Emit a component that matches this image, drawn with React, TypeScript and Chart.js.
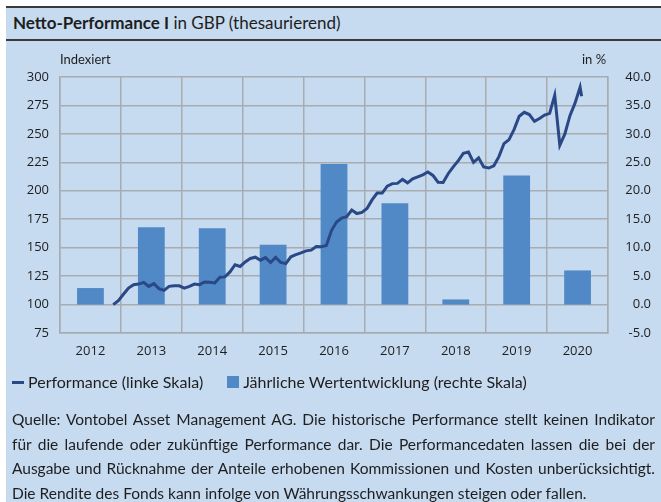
import React, { useEffect, useRef } from 'react';
import { Chart, registerables } from 'chart.js';

Chart.register(...registerables);

// ---- data ----
const years = ['2012', '2013', '2014', '2015', '2016', '2017', '2018', '2019', '2020'];
const annualReturns = [2.9, 13.6, 13.4, 10.5, 24.7, 17.8, 0.9, 22.7, 6.0];
const leftMin = 75;
const leftMax = 300;
const leftStep = 25;
const rightMin = -5;
const rightMax = 40;
const rightStep = 5;
// monthly performance, first value = month index 10 after Jan 2012 (Nov 2012)
const perfStartMonth = 10;
const performance = [
  100, 103.5, 109, 114.5, 117.5, 118, 119.5, 116, 118.4, 114,
  112.5, 116, 116.5, 116.5, 114.5, 116, 118, 117.5, 119.8, 119.5,
  119, 124, 124.3, 128.7, 135, 133.5, 137.5, 140.5, 141.6, 139,
  141.3, 137, 141.5, 137, 136, 142, 143.8, 145.5, 147.2, 147.8,
  151, 150.8, 152, 165, 172.5, 176, 177.2, 183, 180, 181,
  184.5, 192, 198, 198, 204, 206.3, 206.5, 210, 207, 210.5,
  212.3, 214, 216.5, 213.5, 207.5, 207.3, 215, 221, 226.5, 233,
  234, 225, 229, 221, 220, 222, 230, 241.5, 245, 254,
  265.5, 269, 267, 261, 263.5, 266.5, 268, 284, 240, 250,
  266, 277, 291,
];
const perfLastMonth = 102.3;
const perfLastValue = 283;

const BG = 'rgb(198,218,240)';
const BAR = 'rgb(80,137,197)';
const LINE = 'rgb(42,72,134)';
const GRID = 'rgb(168,171,176)';
const DARK = '#3a3a3a';
const TEXT = '#1e1e1e';

export default function App() {
  const ref = useRef<HTMLCanvasElement>(null);

  useEffect(() => {
    const linePts = performance.map((v, i) => ({ x: (perfStartMonth + i + 0.5) / 12, y: v }));
    linePts.push({ x: (perfLastMonth + 0.5) / 12, y: perfLastValue });
    const tickFont = { family: 'Open Sans', size: 13 };
    const chart = new Chart(ref.current as HTMLCanvasElement, {
      type: 'bar',
      data: {
        labels: years,
        datasets: [
          {
            type: 'line',
            label: 'Performance (linke Skala)',
            data: linePts as any,
            xAxisID: 'x2',
            yAxisID: 'y',
            borderColor: LINE,
            borderWidth: 3,
            pointRadius: 0,
            tension: 0,
            order: 0,
          } as any,
          {
            type: 'bar',
            label: 'Jährliche Wertentwicklung (rechte Skala)',
            data: annualReturns,
            xAxisID: 'x',
            yAxisID: 'y1',
            backgroundColor: BAR,
            barPercentage: 0.44,
            categoryPercentage: 1,
            grouped: false,
            order: 1,
          } as any,
        ],
      },
      options: {
        responsive: false,
        animation: false,
        layout: { padding: { left: 0, right: 10, top: 77, bottom: 139 } },
        plugins: { legend: { display: false }, tooltip: { enabled: false } },
        scales: {
          x: {
            position: 'bottom',
            offset: true,
            grid: { offset: true, color: GRID, lineWidth: 1.5, drawTicks: false },
            border: { color: GRID, width: 1.5 },
            ticks: { padding: 10, font: tickFont, color: TEXT, maxRotation: 0 },
            afterFit(s: any) { s.height = 30; },
          },
          x2: { type: 'linear', display: false, offset: false, min: 0, max: 9, grid: { offset: false } },
          y: {
            position: 'left',
            min: leftMin,
            max: leftMax,
            grid: { color: GRID, lineWidth: 1.5, drawTicks: false },
            border: { color: GRID, width: 1.5 },
            ticks: { stepSize: leftStep, padding: 11, font: tickFont, color: TEXT },
            afterFit(s: any) { s.width = 60; },
          },
          y1: {
            position: 'right',
            min: rightMin,
            max: rightMax,
            grid: { display: false, drawTicks: false },
            border: { color: GRID, width: 1.5 },
            ticks: {
              stepSize: rightStep,
              font: tickFont,
              color: TEXT,
              crossAlign: 'far',
              callback: (v: any) => Number(v).toFixed(1),
            },
            afterFit(s: any) { s.width = 43; },
          },
        } as any,
      },
    });
    return () => chart.destroy();
  }, []);

  const font = 'Lato, "Open Sans", sans-serif';
  return (
    <div style={{ position: 'absolute', left: 0, top: 0, width: 661, height: 502, background: '#fff', overflow: 'hidden', fontFamily: font, color: TEXT }}>
      <div style={{ position: 'absolute', left: 6, top: 7, right: 0, bottom: 0, background: BG }} />
      <div style={{ position: 'absolute', left: 6, top: 6, right: 0, height: 2, background: DARK }} />
      <div style={{ position: 'absolute', left: 6, top: 39, right: 0, height: 2, background: DARK }} />
      <div style={{ position: 'absolute', left: 13, top: 11, fontSize: 17, lineHeight: '24px', whiteSpace: 'nowrap' }}>
        <span style={{ fontWeight: 700 }}>Netto-Performance I</span> in GBP (thesaurierend)
      </div>
      <canvas ref={ref} width={661} height={502} style={{ position: 'absolute', left: 0, top: 0, width: 661, height: 502 }} />
      <div style={{ position: 'absolute', left: 60, top: 51, fontSize: 13, lineHeight: '16px' }}>Indexiert</div>
      <div style={{ position: 'absolute', left: 582, top: 51, fontSize: 13, lineHeight: '16px' }}>in %</div>
      <div style={{ position: 'absolute', left: 12, top: 372, fontSize: 16, lineHeight: '20px', whiteSpace: 'nowrap', display: 'flex', alignItems: 'center' }}>
        <span style={{ display: 'inline-block', width: 12, height: 3, background: LINE, marginRight: 4 }} />
        <span>Performance (linke Skala)</span>
        <span style={{ display: 'inline-block', width: 12, height: 12, background: BAR, marginLeft: 24, marginRight: 4 }} />
        <span>Jährliche Wertentwicklung (rechte Skala)</span>
      </div>
      <div style={{ position: 'absolute', left: 12, top: 407, width: 643, fontSize: 15.5, lineHeight: '24.5px', textAlign: 'justify' }}>
        Quelle: Vontobel Asset Management AG. Die historische Performance stellt keinen Indikator für die laufende oder zukünftige Performance dar. Die Performancedaten lassen die bei der Ausgabe und Rücknahme der Anteile erhobenen Kommissionen und Kosten unberücksichtigt. Die Rendite des Fonds kann infolge von Währungsschwankungen steigen oder fallen.
      </div>
    </div>
  );
}
